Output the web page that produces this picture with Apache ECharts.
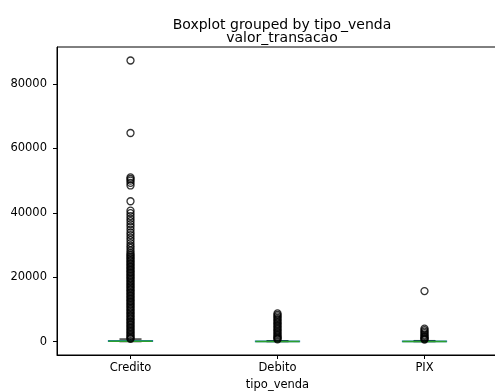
<!DOCTYPE html>
<html>
<head>
<meta charset="utf-8">
<script src="https://cdn.jsdelivr.net/npm/echarts@6/dist/echarts.min.js"></script>
<style>html,body{margin:0;padding:0;background:#fff}#c{width:495px;height:391px}</style>
</head>
<body>
<div id="c"></div>
<script>
const categories = ['Credito', 'Debito', 'PIX'];
const whiskerLow = [0, 0, 0];
const q1 = [30, 20, 20];
const median = [120, 60, 60];
const q3 = [300, 140, 150];
const whiskerHigh = [800, 330, 340];
const yTicks = [0, 20000, 40000, 60000, 80000];

const outliersCredito = [87300, 64800, 51000, 50500, 50000, 49300, 48500, 43600, 40700, 39900, 39000, 38200,
  37400, 36500, 35700, 34800, 33900, 33100, 32300, 31500, 30600, 29800, 29100, 28300, 27600, 27100, 26700,
  26200, 25800, 25300, 24900, 24400, 24000, 23500, 23100, 22600, 22200, 21700, 21300, 20800, 20400, 19900,
  19500, 19000, 18600, 18100, 17700, 17200, 16800, 16300, 15900, 15400, 15000, 14500, 14100, 13600, 13200,
  12700, 12300, 11800, 11400, 10900, 10500, 10000, 9600, 9100, 8700, 8200, 7800, 7300, 6900, 6400, 6000,
  5500, 5100, 4600, 4200, 3700, 3300, 2800, 2400, 1900, 1500, 1100, 850];
const outliersDebito = [8750, 8300, 7850, 7400, 6950, 6500, 6050, 5600, 5150, 4700, 4250, 3800, 3350, 2900,
  2450, 2000, 1600, 1250, 950, 700];
const outliersPIX = [15700, 4050, 3550, 3100, 2650, 2200, 1800, 1450, 1100, 850, 650];

const outlierLists = [outliersCredito, outliersDebito, outliersPIX];
const flierData = [];
outlierLists.forEach((arr, i) => arr.forEach(v => flierData.push([i, v])));
const boxData = categories.map((c, i) => [i, whiskerLow[i], q1[i], median[i], q3[i], whiskerHigh[i]]);

const FONT = 'DejaVu Sans';
const chart = echarts.init(document.getElementById('c'), null, {renderer: 'canvas'});

function renderBox(params, api) {
  const i = api.value(0);
  const band = api.size([1, 0])[0];
  const bw = band * 0.3;
  const cw = bw / 2;
  const pLow = api.coord([i, api.value(1)]);
  const pQ1 = api.coord([i, api.value(2)]);
  const pMed = api.coord([i, api.value(3)]);
  const pQ3 = api.coord([i, api.value(4)]);
  const pHigh = api.coord([i, api.value(5)]);
  const x = pMed[0];
  const blue = '#1f77b4', green = '#2ca02c', black = '#000';
  return {
    type: 'group',
    children: [
      {type: 'line', shape: {x1: x, y1: pQ1[1], x2: x, y2: pLow[1]}, style: {stroke: blue, lineWidth: 1.15}},
      {type: 'line', shape: {x1: x, y1: pQ3[1], x2: x, y2: pHigh[1]}, style: {stroke: blue, lineWidth: 1.15}},
      {type: 'line', shape: {x1: x - cw / 2, y1: pLow[1], x2: x + cw / 2, y2: pLow[1]}, style: {stroke: black, lineWidth: 1.15}},
      {type: 'line', shape: {x1: x - cw / 2, y1: pHigh[1], x2: x + cw / 2, y2: pHigh[1]}, style: {stroke: black, lineWidth: 1.15}},
      {type: 'rect', shape: {x: x - bw / 2, y: pQ3[1], width: bw, height: Math.max(pQ1[1] - pQ3[1], 0.5)}, style: {fill: 'none', stroke: blue, lineWidth: 1.15}},
      {type: 'line', shape: {x1: x - bw / 2, y1: pMed[1], x2: x + bw / 2, y2: pMed[1]}, style: {stroke: green, lineWidth: 1.4}}
    ]
  };
}

chart.setOption({
  animation: false,
  backgroundColor: '#fff',
  title: [
    {text: 'Boxplot grouped by tipo_venda', left: 277, top: 13, textAlign: 'center',
      textStyle: {fontFamily: FONT, fontSize: 14, fontWeight: 'normal', color: '#000'}},
    {text: 'valor_transacao', left: 277, top: 26, textAlign: 'center',
      textStyle: {fontFamily: FONT, fontSize: 14, fontWeight: 'normal', color: '#000'}}
  ],
  grid: {left: 57, top: 47, width: 441, bottom: 36, containLabel: false, outerBoundsMode: 'none',
    show: true, borderColor: '#000', borderWidth: 1, backgroundColor: 'transparent'},
  xAxis: {
    type: 'category', data: categories,
    name: 'tipo_venda', nameLocation: 'middle', nameGap: 22,
    nameTextStyle: {fontFamily: FONT, fontSize: 11.5, color: '#000'},
    axisLine: {show: true, onZero: false, lineStyle: {color: '#000', width: 1}},
    axisTick: {show: true, alignWithLabel: true, length: 4, lineStyle: {color: '#000'}},
    axisLabel: {fontFamily: FONT, fontSize: 11.5, color: '#000', margin: 7},
    splitLine: {show: false}
  },
  yAxis: {
    type: 'value', min: -4150, max: 91500,
    axisLine: {show: true, onZero: false, lineStyle: {color: '#000', width: 1}},
    axisTick: {show: true, length: 4, customValues: yTicks, lineStyle: {color: '#000'}},
    axisLabel: {fontFamily: FONT, fontSize: 11.5, color: '#000', margin: 10, customValues: yTicks,
      formatter: v => String(v)},
    splitLine: {show: false}
  },
  series: [
    {type: 'custom', renderItem: renderBox, data: boxData, z: 2, silent: true,
      encode: {x: 0, y: [1, 2, 3, 4, 5]}},
    {type: 'scatter', data: flierData, symbol: 'circle', symbolSize: 7, z: 3, silent: true,
      itemStyle: {color: 'rgba(0,0,0,0)', borderColor: '#000', borderWidth: 1.3}}
  ]
});
</script>
</body>
</html>
